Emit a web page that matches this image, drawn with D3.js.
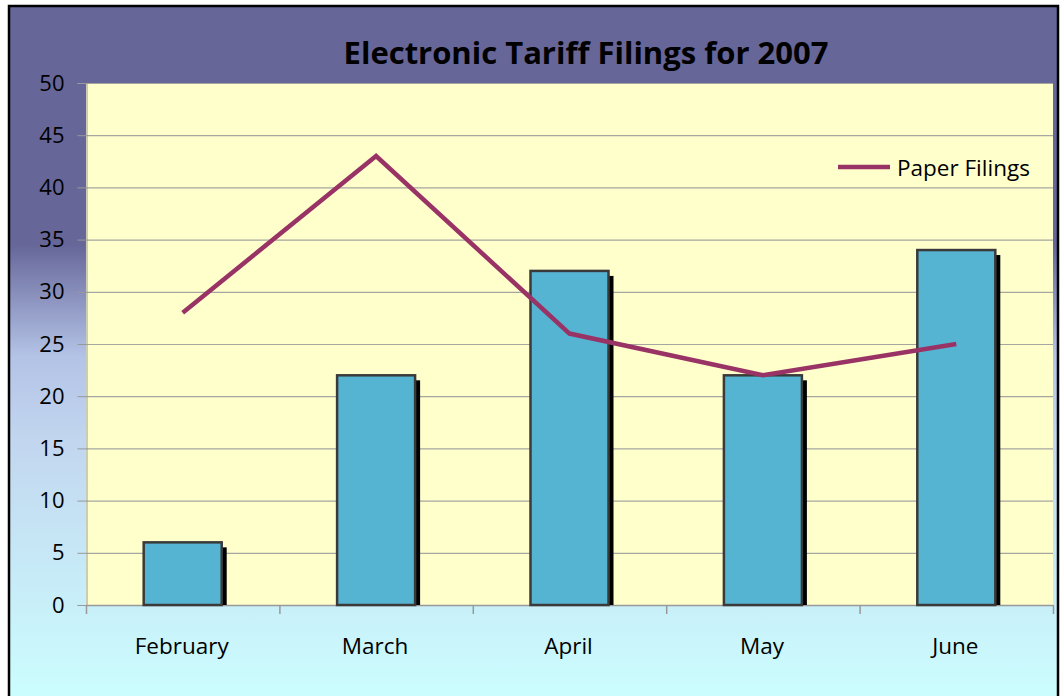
<!DOCTYPE html>
<html>
<head>
<meta charset="utf-8">
<script src="https://cdn.jsdelivr.net/npm/d3@7"></script>
<style>
  body { margin: 0; background: #fff; }
  text { font-family: "Open Sans", "Noto Sans", sans-serif; fill: #000; }
</style>
</head>
<body>
<svg id="chart" width="1060" height="696"></svg>
<script>
// data
var months = ["February", "March", "April", "May", "June"];
var electronic = [6, 22, 32, 22, 34];
var paper = [28, 43, 26, 22, 25];
var yTicks = [0, 5, 10, 15, 20, 25, 30, 35, 40, 45, 50];

var svg = d3.select("#chart"),
    width = +svg.attr("width"),
    height = +svg.attr("height");

var plot = { left: 86, right: 1053, top: 83, bottom: 605 };

// background gradient
var defs = svg.append("defs");
var grad = defs.append("linearGradient")
  .attr("id", "bg").attr("x1", 0).attr("y1", 0).attr("x2", 0).attr("y2", 1);
grad.append("stop").attr("offset", "0%").attr("stop-color", "#666699");
grad.append("stop").attr("offset", "34%").attr("stop-color", "#666699");
grad.append("stop").attr("offset", "50%").attr("stop-color", "#b3c3e6");
grad.append("stop").attr("offset", "62%").attr("stop-color", "#c2d6ef");
grad.append("stop").attr("offset", "100%").attr("stop-color", "#ccffff");

svg.append("rect")
  .attr("x", 9).attr("y", 6).attr("width", 1049).attr("height", 700)
  .attr("fill", "url(#bg)")
  .attr("stroke", "#000").attr("stroke-width", 2.5);

// plot area
svg.append("rect")
  .attr("x", plot.left).attr("y", plot.top)
  .attr("width", plot.right - plot.left).attr("height", plot.bottom - plot.top)
  .attr("fill", "#ffffcc");

// scales
var x = d3.scaleBand().domain(months).range([plot.left, plot.right]);
var y = d3.scaleLinear().domain([0, 50]).range([plot.bottom, plot.top]);

// gridlines
svg.append("g")
  .selectAll("line")
  .data(yTicks.slice(1))
  .enter()
  .append("line")
    .attr("x1", plot.left).attr("x2", plot.right)
    .attr("y1", function (d) { return y(d) + 0.5; })
    .attr("y2", function (d) { return y(d) + 0.5; })
    .attr("stroke", "#a6a6a0").attr("stroke-width", 1.2);

// y axis
var yAxis = svg.append("g")
  .attr("transform", "translate(" + (plot.left + 0.5) + ",0)")
  .call(d3.axisLeft(y).tickValues(yTicks).tickSize(9).tickPadding(13));
yAxis.select(".domain").attr("stroke", "#999");
yAxis.selectAll(".tick line").attr("stroke", "#999");
yAxis.selectAll("text").style("font-size", "22px").attr("fill", "#000");

// x axis
var boundaries = months.map(function (m) { return x(m); }).concat([plot.right]);
svg.append("line")
  .attr("x1", plot.left).attr("x2", plot.right)
  .attr("y1", plot.bottom + 0.5).attr("y2", plot.bottom + 0.5)
  .attr("stroke", "#999").attr("stroke-width", 1.5);
svg.append("g")
  .selectAll("line")
  .data(boundaries)
  .enter()
  .append("line")
    .attr("x1", function (d) { return d + 0.5; })
    .attr("x2", function (d) { return d + 0.5; })
    .attr("y1", plot.bottom).attr("y2", plot.bottom + 9)
    .attr("stroke", "#999").attr("stroke-width", 1.5);
svg.append("g")
  .selectAll("text")
  .data(months)
  .enter()
  .append("text")
    .attr("x", function (d) { return x(d) + x.bandwidth() / 2 - 1; })
    .attr("y", 654)
    .attr("text-anchor", "middle")
    .style("font-size", "22.5px")
    .text(function (d) { return d; });

// bars
var barW = 78;
var bars = svg.append("g");
bars.selectAll(".shadow")
  .data(electronic)
  .enter()
  .append("rect")
    .attr("class", "shadow")
    .attr("x", function (d, i) { return x(months[i]) + x.bandwidth() / 2 - barW / 2 + 5; })
    .attr("y", function (d) { return y(d) + 5; })
    .attr("width", barW)
    .attr("height", function (d) { return plot.bottom - y(d) - 5; })
    .attr("fill", "#000");
bars.selectAll(".bar")
  .data(electronic)
  .enter()
  .append("rect")
    .attr("class", "bar")
    .attr("x", function (d, i) { return x(months[i]) + x.bandwidth() / 2 - barW / 2; })
    .attr("y", function (d) { return y(d); })
    .attr("width", barW)
    .attr("height", function (d) { return plot.bottom - y(d); })
    .attr("fill", "#56b4d3")
    .attr("stroke", "#3a3a3a").attr("stroke-width", 2.5);

// paper line
var line = d3.line()
  .x(function (d, i) { return x(months[i]) + x.bandwidth() / 2; })
  .y(function (d) { return y(d); });
svg.append("path")
  .datum(paper)
  .attr("d", line)
  .attr("fill", "none")
  .attr("stroke", "#993366")
  .attr("stroke-width", 4.5);

// legend
svg.append("line")
  .attr("x1", 838).attr("x2", 890).attr("y1", 167).attr("y2", 167)
  .attr("stroke", "#993366").attr("stroke-width", 4.5);
svg.append("text")
  .attr("x", 897).attr("y", 176)
  .style("font-size", "22.5px")
  .text("Paper Filings");

// title
svg.append("text")
  .attr("x", 586).attr("y", 64)
  .attr("text-anchor", "middle")
  .style("font-size", "31px").style("font-weight", "bold")
  .text("Electronic Tariff Filings for 2007");
</script>
</body>
</html>
